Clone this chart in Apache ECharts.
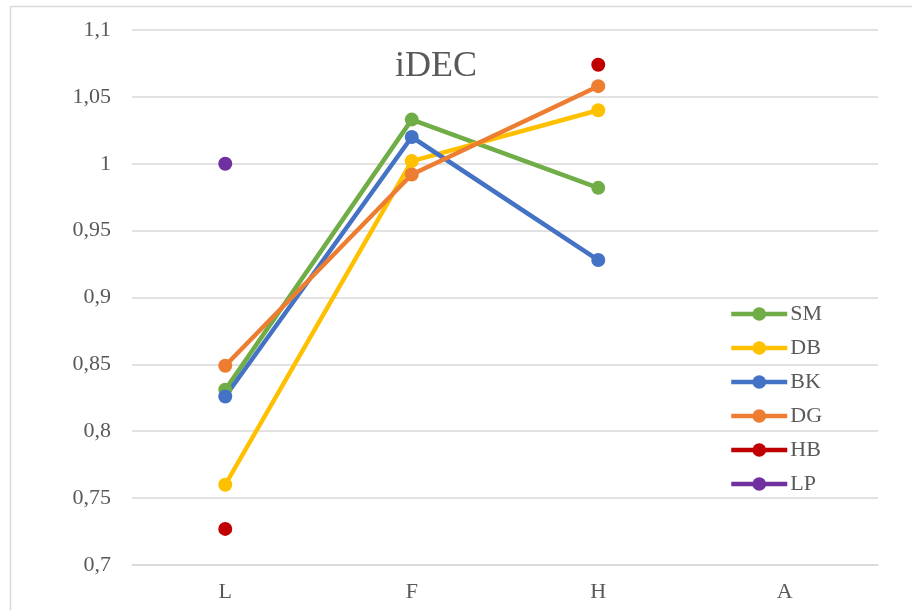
<!DOCTYPE html>
<html>
<head>
<meta charset="utf-8">
<script src="https://cdn.jsdelivr.net/npm/echarts@6/dist/echarts.min.js"></script>
<style>
  html, body { margin: 0; padding: 0; background: #fff; }
  #chart { width: 912px; height: 610px; }
</style>
</head>
<body>
<div id="chart"></div>
<script>
// Categories along the x axis
const categories = ['L', 'F', 'H', 'A'];

// Series values per category (null = no value)
const SM = [0.831, 1.033, 0.982, null];
const DB = [0.760, 1.002, 1.040, null];
const BK = [0.826, 1.020, 0.928, null];
const DG = [0.849, 0.992, 1.058, null];
const HB = [0.727, null, 1.074, null];
const LP = [1.000, null, null, null];

const seriesNames = ['SM', 'DB', 'BK', 'DG', 'HB', 'LP'];
const seriesData = [SM, DB, BK, DG, HB, LP];
const seriesColors = ['#70AD47', '#FFC000', '#4472C4', '#ED7D31', '#C00000', '#7030A0'];

const textColor = '#595959';
const font = '"Liberation Serif", "Times New Roman", serif';

const chart = echarts.init(document.getElementById('chart'), null, { renderer: 'canvas' });

chart.setOption({
  animation: false,
  backgroundColor: '#fff',
  graphic: [{
    type: 'rect',
    shape: { x: 10.5, y: 6.5, width: 920, height: 620 },
    style: { fill: 'none', stroke: '#D9D9D9', lineWidth: 1.5 },
    silent: true,
    z: -1
  }],
  title: {
    text: 'iDEC',
    left: 431,
    top: 44,
    textAlign: 'center',
    textStyle: { fontFamily: font, fontSize: 36, fontWeight: 'normal', color: textColor }
  },
  legend: {
    orient: 'vertical',
    left: 729,
    top: 303,
    padding: 0,
    itemWidth: 56,
    itemHeight: 17,
    itemGap: 12,
    data: seriesNames,
    lineStyle: { width: 4.5 },
    textStyle: { fontFamily: font, fontSize: 22, color: textColor, padding: [0, 0, 0, -2] }
  },
  grid: { left: 132, right: 34, top: 30, bottom: 45 },
  xAxis: {
    type: 'category',
    data: categories,
    boundaryGap: true,
    axisLine: { show: true, lineStyle: { color: '#D9D9D9', width: 1.5 } },
    axisTick: { show: false },
    axisLabel: { fontFamily: font, fontSize: 22, color: textColor, margin: 16 }
  },
  yAxis: {
    type: 'value',
    min: 0.7,
    max: 1.1,
    interval: 0.05,
    axisLine: { show: false },
    axisTick: { show: false },
    splitLine: { lineStyle: { color: '#D9D9D9', width: 1.5 } },
    axisLabel: {
      fontFamily: font, fontSize: 22, color: textColor, margin: 21,
      formatter: v => String(Math.round(v * 100) / 100).replace('.', ',')
    }
  },
  series: seriesNames.map((name, i) => ({
    name,
    type: 'line',
    data: seriesData[i],
    connectNulls: false,
    symbol: 'circle',
    symbolSize: 14,
    showSymbol: true,
    color: seriesColors[i],
    lineStyle: { width: 4.5, color: seriesColors[i] },
    itemStyle: { color: seriesColors[i] }
  }))
});
</script>
</body>
</html>
